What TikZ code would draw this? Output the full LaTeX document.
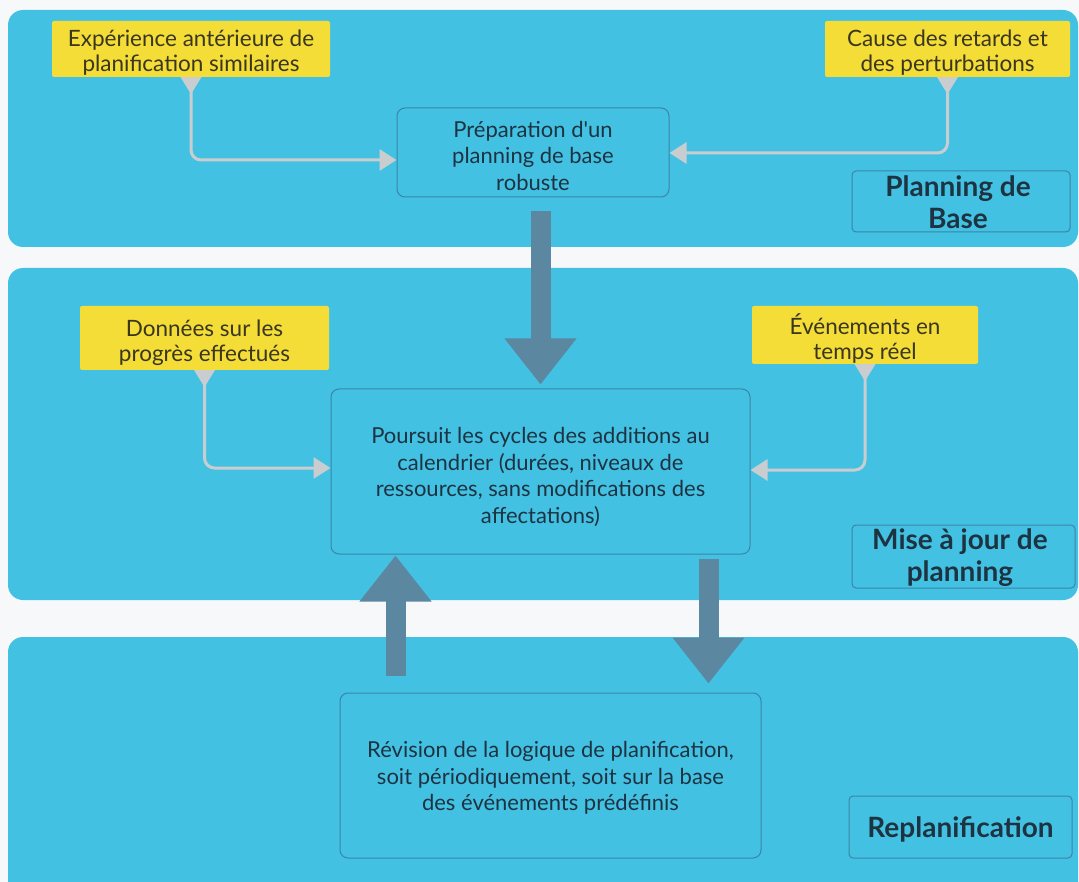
\documentclass[tikz,border=0pt]{standalone}
\usepackage{fontspec}
\setmainfont{Lato}
\usetikzlibrary{arrows.meta,calc}
\definecolor{bgc}{HTML}{F6F8FA}
\definecolor{bandc}{HTML}{43C1E3}
\definecolor{boxline}{HTML}{3A86A6}
\definecolor{bigc}{HTML}{5B87A1}
\definecolor{connc}{HTML}{C9CDD0}
\definecolor{yel}{HTML}{F3DD36}
\definecolor{txtc}{HTML}{1E3342}
\definecolor{ytxt}{HTML}{3A3620}
\tikzset{
  band/.style={fill=bandc, rounded corners=15pt},
  note/.style={fill=yel, rounded corners=2pt, inner sep=0pt},
  notetext/.style={inner sep=0pt, align=center, text=ytxt, font=\fontsize{22.5}{25}\selectfont},
  stepbox/.style={draw=boxline, line width=1pt, rounded corners=8pt, inner sep=0pt},
  steptext/.style={inner sep=0pt, align=center, text=txtc, font=\fontsize{22}{26.5}\selectfont},
  lanelabel/.style={draw=boxline, line width=1pt, rounded corners=4pt, inner sep=0pt},
  lanetext/.style={text=txtc, font=\bfseries\fontsize{28}{32}\selectfont, align=center, inner sep=0pt},
  conn/.style={draw=connc, line width=3pt, rounded corners=10pt,
    {Triangle[reversed,length=17pt,width=20pt]}-{Triangle[length=17pt,width=21pt]}},
  bigarrow/.style={draw=bigc, line width=20pt, -{Triangle[length=46pt,width=69pt]}}
}
\begin{document}
\begin{tikzpicture}[x=1pt,y=-1pt]
\useasboundingbox (0,0) rectangle (1079,882);
\fill[bgc] (0,0) rectangle (1079,882);
% bands
\fill[band] (8,10) rectangle (1078,247);
\fill[band] (8,268) rectangle (1078,600);
\fill[band] (8,637) rectangle (1078,900);
% notes
\node[note, minimum width=278pt, minimum height=56pt,
  label={[notetext, yshift=-4pt]center:{Expérience antérieure de\\planification similaires}}] (y1) at (191,49) {};
\node[note, minimum width=245pt, minimum height=56pt,
  label={[notetext, yshift=-4pt]center:{Cause des retards et\\des perturbations}}] (y2) at (947.5,49) {};
\node[note, minimum width=249pt, minimum height=64pt,
  label={[notetext, yshift=-4.5pt]center:{Données sur les\\progrès effectués}}] (y3) at (204.5,338) {};
\node[note, minimum width=226pt, minimum height=58pt,
  label={[notetext, yshift=-3.5pt]center:{Événements en\\temps réel}}] (y4) at (865,335) {};
% steps
\node[stepbox, minimum width=272pt, minimum height=89pt,
  label={[steptext, yshift=-3pt]center:{Préparation d\textquotesingle un\\planning de base\\robuste}}] (prep) at (533,152.5) {};
\node[stepbox, minimum width=419pt, minimum height=165pt,
  label={[steptext, yshift=-5.5pt]center:{Poursuit les cycles des additions au\\calendrier (durées, niveaux de\\ressources, sans modifications des\\affectations)}}] (center) at (540.5,471.5) {};
\node[stepbox, minimum width=421pt, minimum height=165pt,
  label={[steptext, yshift=-2.5pt]center:{Révision de la logique de planification,\\soit périodiquement, soit sur la base\\des événements prédéfinis}}] (bottom) at (550.5,775.5) {};
% lane labels
\node[lanelabel, minimum width=218pt, minimum height=61pt,
  label={[lanetext, xshift=-3pt, yshift=-1pt]center:{Planning de\\Base}}] (l1) at (961,201.5) {};
\node[lanelabel, minimum width=223pt, minimum height=63pt,
  label={[lanetext, xshift=-3.5pt, yshift=-1pt]center:{Mise à jour de\\planning}}] (l2) at (963.5,556.5) {};
\node[lanelabel, minimum width=223pt, minimum height=62pt,
  label={[lanetext, yshift=-2pt]center:{Replanification}}] (l3) at (960.5,827) {};
% grey connectors
\draw[conn] (y1.south) |- ($(prep.west)+(0pt,-7.5pt)$);
\draw[conn] (y2.south) |- ($(prep.east)+(0pt,-0.5pt)$);
\draw[conn] (y3.south) |- ($(center.west)+(0pt,3.5pt)$);
\draw[conn] (y4.south) |- ($(center.east)+(0pt,1.5pt)$);
% big arrows
\draw[bigarrow] ($(prep.south -| center.north)+(0pt,-14pt)$) -- ($(center.north)+(0pt,4pt)$);
\draw[bigarrow] ($(bottom.north west)+(56pt,17pt)$) -- ($(center.south west)+(65pt,-1pt)$);
\draw[bigarrow] ($(center.south west)+(378pt,-4pt)$) -- ($(bottom.north west)+(369pt,9pt)$);
\end{tikzpicture}
\end{document}
